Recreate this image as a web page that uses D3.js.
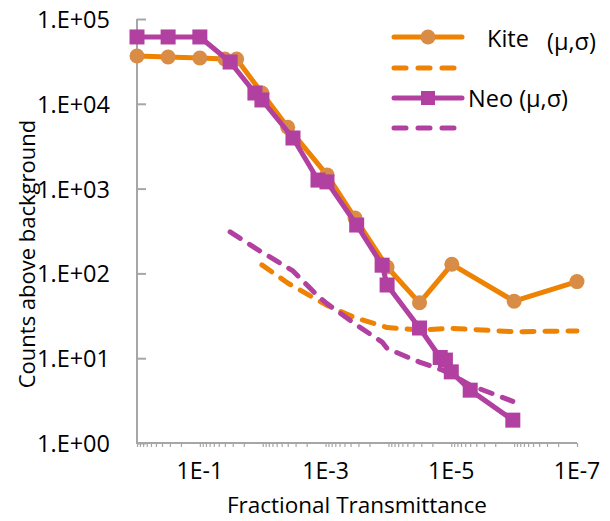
<!DOCTYPE html>
<html><head><meta charset="utf-8">
<script src="https://cdn.jsdelivr.net/npm/d3@7"></script>
<style>body{margin:0;background:#fff}svg{display:block}text{font-family:"Open Sans",Lato,sans-serif;fill:#000}</style>
</head><body><svg id="c" width="610" height="521"></svg>
<script>
const kiteX = [1, 0.32, 0.1, 0.04, 0.026, 0.0103, 0.004, 0.00095, 0.00034, 0.000105, 0.000032, 0.0000098, 0.000001, 0.0000001];
const kiteY = [36600, 35600, 34700, 33700, 33700, 13400, 5300, 1450, 450, 119, 45, 128, 47, 80];
const neoX = [1, 0.32, 0.1, 0.033, 0.0133, 0.0103, 0.0033, 0.00132, 0.00095, 0.00032, 0.000126, 0.000105, 0.000032, 0.000015, 0.0000124, 0.00001, 0.000005, 0.00000105];
const neoY = [61400, 61400, 61400, 31100, 13400, 11100, 3950, 1260, 1200, 372, 125, 73, 22.7, 10.2, 9.5, 6.9, 4.2, 1.86];
const kiteSX = [0.0103, 0.004, 0.00095, 0.00034, 0.000105, 0.000032, 0.0000098, 0.000001, 0.0000001];
const kiteSY = [126, 77, 42, 30, 23, 21.5, 22.5, 20.5, 21];
const neoSX = [0.033, 0.0133, 0.0103, 0.0033, 0.00132, 0.00095, 0.00032, 0.000126, 0.000105, 0.000032, 0.000015, 0.0000124, 0.00001, 0.000005, 0.00000105];
const neoSY = [308, 200, 178, 107, 54, 44, 24.6, 15.5, 13, 9.0, 7.4, 7.0, 6.5, 4.8, 3.1];
const xTickVals = [1e-1, 1e-3, 1e-5, 1e-7];
const xTickLabels = ["1E-1", "1E-3", "1E-5", "1E-7"];
const yTickVals = [1, 10, 100, 1000, 10000, 100000];
const yTickLabels = ["1.E+00", "1.E+01", "1.E+02", "1.E+03", "1.E+04", "1.E+05"];
const legendNames = ["Kite", "Neo (μ,σ)"];

const ORANGE = "#EE8203", ORANGE_M = "#D98C45", PURPLE = "#B140A0", AXIS = "#A6A6A6";
const svg = d3.select("#c");
const x = d3.scaleLog().domain([1, 1e-7]).range([137, 577]);
const y = d3.scaleLog().domain([1, 1e5]).range([443, 19]);

// axes
const minor = [];
for (let e = 0; e < 7; e++) for (let m = 1; m <= 9; m++) minor.push(m * Math.pow(10, -e - 1));
minor.push(1);
const xAxis = d3.axisBottom(x).tickValues(minor).tickSize(4).tickFormat("");
svg.append("g").attr("transform", "translate(0,443)").call(xAxis)
  .call(g => { g.select(".domain").attr("stroke", AXIS).attr("stroke-width", 2).attr("d", "M137,0H577"); g.selectAll(".tick line").attr("stroke", AXIS).attr("stroke-width", 1.2); });
svg.append("g").selectAll("text").data(xTickVals).join("text")
  .attr("x", d => x(d)).attr("y", 479).attr("text-anchor", "middle").attr("font-size", 23)
  .text((d, i) => xTickLabels[i]);

const yAxis = d3.axisRight(y).tickValues(yTickVals).tickSize(9).tickFormat("");
svg.append("g").attr("transform", "translate(137,0)").call(yAxis)
  .call(g => { g.select(".domain").attr("stroke", AXIS).attr("stroke-width", 2).attr("d", "M0,19V444"); g.selectAll(".tick line").attr("stroke", AXIS).attr("stroke-width", 2); });
svg.append("g").selectAll("text").data(yTickVals).join("text")
  .attr("x", 110).attr("y", d => y(d) + 9).attr("text-anchor", "end").attr("font-size", 23.5)
  .text((d, i) => yTickLabels[i]);

svg.append("text").attr("x", 357).attr("y", 513).attr("text-anchor", "middle").attr("font-size", 22.5).text("Fractional Transmittance");
svg.append("text").attr("transform", "translate(35,254) rotate(-90)").attr("text-anchor", "middle").attr("font-size", 22).text("Counts above background");

const line = d3.line().x(d => x(d[0])).y(d => y(d[1]));
const zip = (a, b) => a.map((v, i) => [v, b[i]]);

// dashed sigma lines
svg.append("path").datum(zip(kiteSX, kiteSY)).attr("d", line).attr("fill", "none")
  .attr("stroke", ORANGE).attr("stroke-width", 5).attr("stroke-linecap", "round").attr("stroke-linejoin", "round").attr("stroke-dasharray", "12,11");
svg.append("path").datum(zip(neoSX, neoSY)).attr("d", line).attr("fill", "none")
  .attr("stroke", PURPLE).attr("stroke-width", 5).attr("stroke-linecap", "round").attr("stroke-linejoin", "round").attr("stroke-dasharray", "12,11");

// Kite
svg.append("path").datum(zip(kiteX, kiteY)).attr("d", line).attr("fill", "none")
  .attr("stroke", ORANGE).attr("stroke-width", 5).attr("stroke-linejoin", "round");
svg.append("g").selectAll("circle").data(zip(kiteX, kiteY)).join("circle")
  .attr("cx", d => x(d[0])).attr("cy", d => y(d[1])).attr("r", 7.5).attr("fill", ORANGE_M);

// Neo
svg.append("path").datum(zip(neoX, neoY)).attr("d", line).attr("fill", "none")
  .attr("stroke", PURPLE).attr("stroke-width", 5).attr("stroke-linejoin", "round");
svg.append("g").selectAll("rect").data(zip(neoX, neoY)).join("rect")
  .attr("x", d => x(d[0]) - 7.5).attr("y", d => y(d[1]) - 7.5).attr("width", 15).attr("height", 15).attr("fill", PURPLE);

// legend
const lg = svg.append("g");
lg.append("line").attr("x1", 394).attr("x2", 462).attr("y1", 37).attr("y2", 37).attr("stroke", ORANGE).attr("stroke-width", 5).attr("stroke-linecap", "round");
lg.append("circle").attr("cx", 428).attr("cy", 37).attr("r", 7.5).attr("fill", ORANGE_M);
lg.append("line").attr("x1", 394).attr("x2", 456).attr("y1", 68).attr("y2", 68).attr("stroke", ORANGE).attr("stroke-width", 5).attr("stroke-linecap", "round").attr("stroke-dasharray", "12,12");
lg.append("line").attr("x1", 394).attr("x2", 462).attr("y1", 98).attr("y2", 98).attr("stroke", PURPLE).attr("stroke-width", 5).attr("stroke-linecap", "round");
lg.append("rect").attr("x", 421).attr("y", 91).attr("width", 14).attr("height", 14).attr("fill", PURPLE);
lg.append("line").attr("x1", 394).attr("x2", 456).attr("y1", 128).attr("y2", 128).attr("stroke", PURPLE).attr("stroke-width", 5).attr("stroke-linecap", "round").attr("stroke-dasharray", "12,12");
lg.append("text").attr("x", 487).attr("y", 47).attr("font-size", 23.5).text(legendNames[0]);
lg.append("text").attr("x", 547).attr("y", 50).attr("font-size", 23.5).text("(μ,σ)");
lg.append("text").attr("x", 468).attr("y", 107).attr("font-size", 23.5).text(legendNames[1]);
</script></body></html>
